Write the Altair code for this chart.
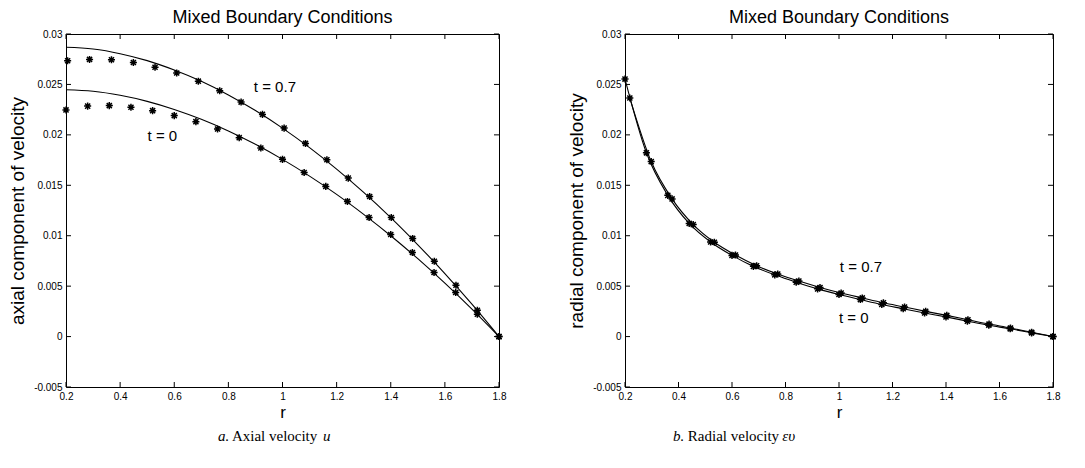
import altair as alt
import pandas as pd

# ---------------- data ----------------
x_ticks = [0.2, 0.4, 0.6, 0.8, 1.0, 1.2, 1.4, 1.6, 1.8]
y_ticks = [-0.005, 0.0, 0.005, 0.01, 0.015, 0.02, 0.025, 0.03]
x_domain = [0.2, 1.8]
y_domain = [-0.005, 0.03]

# marker grid (t = 0)
r_grid = [0.2, 0.28, 0.36, 0.44, 0.52, 0.60, 0.68, 0.76, 0.84, 0.92, 1.00,
          1.08, 1.16, 1.24, 1.32, 1.40, 1.48, 1.56, 1.64, 1.72, 1.80]

# ---- panel a: axial velocity ----
a_t07_r = [0.206, 0.287, 0.368, 0.449, 0.529, 0.609, 0.689, 0.768, 0.847, 0.926, 1.006,
           1.085, 1.164, 1.243, 1.322, 1.402, 1.481, 1.561, 1.641, 1.720, 1.800]
a_t07_u = [0.02735, 0.02748, 0.02745, 0.02717, 0.02670, 0.02613, 0.02532, 0.02437, 0.02325,
           0.02203, 0.02067, 0.01915, 0.01753, 0.01571, 0.01389, 0.01181, 0.00973, 0.00747,
           0.00509, 0.00261, 0.0]
a_t0_u = [0.02247, 0.02285, 0.02290, 0.02274, 0.02240, 0.02191, 0.02131, 0.02058, 0.01972,
          0.01870, 0.01757, 0.01627, 0.01489, 0.01340, 0.01181, 0.01012, 0.00834, 0.00635,
          0.00437, 0.00221, 0.0]

r_curve = [0.2, 0.3, 0.4, 0.5, 0.6, 0.7, 0.8, 0.9, 1.0, 1.1, 1.2, 1.3, 1.4, 1.5, 1.6, 1.7, 1.8]
a_t07_curve = [0.02868, 0.02851, 0.02805, 0.02736, 0.02643, 0.02531, 0.02396, 0.02241, 0.02067,
               0.01873, 0.01660, 0.01429, 0.01179, 0.00910, 0.00625, 0.00321, 0.0]
a_t0_curve = [0.02447, 0.02432, 0.02392, 0.02332, 0.02252, 0.02154, 0.02039, 0.01906, 0.01757,
              0.01591, 0.01410, 0.01212, 0.01000, 0.00772, 0.00529, 0.00272, 0.0]

# ---- panel b: radial velocity ----
b_t0_v = [0.02553, 0.01822, 0.01400, 0.01122, 0.00938, 0.00805, 0.00696, 0.00612, 0.00539,
          0.00473, 0.00417, 0.00367, 0.00318, 0.00276, 0.00234, 0.00195, 0.00153, 0.00112,
          0.00077, 0.00037, 0.0]
b_t07_r = [0.218, 0.298, 0.376, 0.455, 0.534, 0.613, 0.692, 0.771, 0.850, 0.929, 1.008,
           1.087, 1.166, 1.245, 1.324, 1.403, 1.482, 1.561, 1.641, 1.720, 1.800]
b_t07_v = [0.02365, 0.01735, 0.01365, 0.01110, 0.00935, 0.00808, 0.00702, 0.00620, 0.00550,
           0.00487, 0.00432, 0.00383, 0.00335, 0.00293, 0.00250, 0.00210, 0.00167, 0.00124,
           0.00085, 0.00042, 0.0]

# curve labels
a_label_text = ["t = 0.7", "t = 0"]
a_label_r = [0.972, 0.556]
a_label_v = [0.02474, 0.01985]
b_label_text = ["t = 0.7", "t = 0"]
b_label_r = [1.082, 1.055]
b_label_v = [0.00685, 0.00189]

# captions (pieces: italic letter, upright words, italic symbol)
a_caption = ["a.", "Axial velocity", "u"]
a_caption_r = [0.762, 0.813, 1.150]
b_caption = ["b.", "Radial velocity", "\u03b5\u03c5"]
b_caption_r = [0.379, 0.435, 0.788]
caption_v = -0.00989
caption_style = ["italic", "normal", "italic"]

panel_title = "Mixed Boundary Conditions"
a_ytitle = "axial component of velocity"
b_ytitle = "radial component of velocity"

# ---------------- styling ----------------
SANS = "Liberation Sans"
SERIF = "Liberation Serif"
ASTERISK = "M-1,0L1,0M0,-1L0,1M-0.72,-0.72L0.72,0.72M-0.72,0.72L0.72,-0.72"


def make_panel(curve_df, marker_df, label_df, caption_df, ytitle, width):
    xs = alt.Scale(domain=x_domain, nice=False, zero=False)
    ys = alt.Scale(domain=y_domain, nice=False, zero=False)
    xaxis = alt.Axis(values=x_ticks, format="~g", ticks=False, domain=False, grid=False,
                     labelFontSize=10, labelFont=SANS, labelPadding=4, labelFlush=False,
                     labelOverlap=False, labelColor="black",
                     title="r", titleFont=SANS, titleFontSize=17, titleFontWeight="normal",
                     titlePadding=3, titleColor="black")
    yaxis = alt.Axis(values=y_ticks,
                     labelExpr="replace(format(datum.value, '~g'), '\u2212', '-')",
                     ticks=False, domain=False, grid=False,
                     labelFontSize=10, labelFont=SANS, labelPadding=4, labelFlush=False,
                     labelOverlap=False, labelColor="black",
                     title=ytitle, titleFont=SANS, titleFontSize=19, titleFontWeight="normal",
                     titlePadding=6, titleColor="black")

    def X():
        return alt.X("r:Q", scale=xs, axis=xaxis)

    def Y():
        return alt.Y("v:Q", scale=ys, axis=yaxis)

    lines = alt.Chart(curve_df).mark_line(
        color="black", strokeWidth=1.1, interpolate="monotone"
    ).encode(x=X(), y=Y(), detail="series:N")

    pts = alt.Chart(marker_df).mark_point(
        shape=ASTERISK, filled=False, size=50, strokeWidth=1.5, color="black", opacity=1
    ).encode(x=X(), y=Y(), detail="series:N")

    labels = alt.Chart(label_df).mark_text(
        font=SANS, fontSize=15, color="black", align="center", baseline="middle"
    ).encode(x=X(), y=Y(), text="text:N")

    caps = []
    for style in ["italic", "normal"]:
        sub = caption_df[caption_df["style"] == style]
        caps.append(alt.Chart(sub).mark_text(
            font=SERIF, fontSize=15, fontStyle=style, color="black",
            align="left", baseline="middle"
        ).encode(x=X(), y=Y(), text="text:N"))

    tb = pd.DataFrame({"r": x_ticks, "v": [y_domain[0]] * len(x_ticks)})
    tt = pd.DataFrame({"r": x_ticks, "v": [y_domain[1]] * len(x_ticks)})
    tl = pd.DataFrame({"r": [x_domain[0]] * len(y_ticks), "v": y_ticks})
    tr = pd.DataFrame({"r": [x_domain[1]] * len(y_ticks), "v": y_ticks})
    tick_b = alt.Chart(tb).mark_tick(orient="vertical", size=5, thickness=1, color="black",
                                     yOffset=-2.5, opacity=1).encode(x=X(), y=Y())
    tick_t = alt.Chart(tt).mark_tick(orient="vertical", size=5, thickness=1, color="black",
                                     yOffset=2.5, opacity=1).encode(x=X(), y=Y())
    tick_l = alt.Chart(tl).mark_tick(orient="horizontal", size=5, thickness=1, color="black",
                                     xOffset=2.5, opacity=1).encode(x=X(), y=Y())
    tick_r = alt.Chart(tr).mark_tick(orient="horizontal", size=5, thickness=1, color="black",
                                     xOffset=-2.5, opacity=1).encode(x=X(), y=Y())

    return alt.layer(lines, pts, labels, tick_b, tick_t, tick_l, tick_r, *caps).properties(
        width=width, height=353,
        title=alt.TitleParams(panel_title, font=SANS, fontSize=18, fontWeight="normal",
                              color="black", anchor="middle", frame="group", offset=2),
    )


def series_df(rs_list, vs_list, names):
    rows = []
    for rs, vs, name in zip(rs_list, vs_list, names):
        for r, v in zip(rs, vs):
            rows.append({"r": r, "v": v, "series": name})
    return pd.DataFrame(rows)


a_curves = series_df([r_curve, r_curve], [a_t07_curve, a_t0_curve], ["t07", "t0"])
a_marks = series_df([a_t07_r, r_grid], [a_t07_u, a_t0_u], ["t07", "t0"])
a_labels = pd.DataFrame({"r": a_label_r, "v": a_label_v, "text": a_label_text})
a_caps = pd.DataFrame({"r": a_caption_r, "v": [caption_v] * 3, "text": a_caption,
                       "style": caption_style})

b_curves = series_df([b_t07_r, r_grid], [b_t07_v, b_t0_v], ["t07", "t0"])
b_marks = series_df([b_t07_r, r_grid], [b_t07_v, b_t0_v], ["t07", "t0"])
b_labels = pd.DataFrame({"r": b_label_r, "v": b_label_v, "text": b_label_text})
b_caps = pd.DataFrame({"r": b_caption_r, "v": [caption_v] * 3, "text": b_caption,
                       "style": caption_style})

left = make_panel(a_curves, a_marks, a_labels, a_caps, a_ytitle, 433)
right = make_panel(b_curves, b_marks, b_labels, b_caps, b_ytitle, 428)

chart = alt.hconcat(left, right, spacing=60).properties(
    padding={"left": 0, "top": 0, "right": 0, "bottom": 0},
    background="white",
).configure_view(stroke="black", strokeWidth=1)

chart.save("out.html", embed_options={"renderer": "svg", "actions": False})
